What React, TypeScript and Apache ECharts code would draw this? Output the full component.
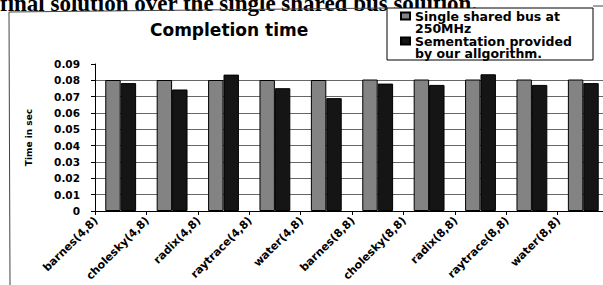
import React, { useEffect, useRef } from "react";
import * as echarts from "echarts";

const categories = [
  "barnes(4,8)", "cholesky(4,8)", "radix(4,8)", "raytrace(4,8)", "water(4,8)",
  "barnes(8,8)", "cholesky(8,8)", "radix(8,8)", "raytrace(8,8)", "water(8,8)",
];
const sharedBus = [0.0802, 0.0802, 0.0802, 0.0802, 0.0802, 0.0805, 0.0805, 0.0805, 0.0805, 0.0805];
const segmentation = [0.0783, 0.0744, 0.0835, 0.0752, 0.0691, 0.078, 0.0772, 0.0837, 0.0772, 0.0783];
const seriesNames = ["Single shared bus at 250MHz", "Sementation provided by our allgorithm."];
const legendLabels = ["Single shared bus at\n250MHz", "Sementation provided\nby our allgorithm."];
const titleText = "Completion time";
const yAxisName = "Time in sec";
const headerText = "final solution over the single shared bus solution.";

const FONT = "DejaVu Sans";

export default function App() {
  const ref = useRef<HTMLDivElement>(null);
  useEffect(() => {
    if (!ref.current) return;
    const chart = echarts.init(ref.current, null, { renderer: "svg" });
    const legendBase = (name: string, idx: number, top: number) => ({
      data: [name],
      orient: "vertical",
      left: 400,
      top,
      padding: 0,
      itemWidth: 9,
      itemHeight: 7,
      itemGap: 0,
      icon: "rect",
      // leading blank line so the first text line sits level with the marker
      formatter: () => " \n" + legendLabels[idx],
      textStyle: {
        fontFamily: FONT,
        fontWeight: "bold",
        fontSize: 12.5,
        lineHeight: 12.5,
        color: "#000",
      },
    });
    chart.setOption({
      animation: false,
      backgroundColor: "#fff",
      title: {
        text: titleText,
        left: 150,
        top: 21,
        padding: 0,
        textStyle: { fontFamily: FONT, fontWeight: "bold", fontSize: 17, color: "#000" },
      },
      legend: [legendBase(seriesNames[0], 0, -3), legendBase(seriesNames[1], 1, 22)],
      grid: { left: 95, right: -6, top: 64, bottom: 74, containLabel: false, outerBoundsMode: "none" },
      xAxis: {
        type: "category",
        data: categories,
        axisLine: { show: true, lineStyle: { color: "#000", width: 1 } },
        axisTick: { show: true, length: 4, lineStyle: { color: "#000" } },
        axisLabel: {
          interval: 0,
          rotate: 45,
          margin: -17,
          padding: [0, 35, 0, 0],
          fontFamily: FONT,
          fontWeight: "bold",
          fontSize: 11,
          color: "#000",
        },
      },
      yAxis: {
        type: "value",
        min: 0,
        max: 0.09,
        interval: 0.01,
        name: yAxisName,
        nameLocation: "middle",
        nameGap: 62,
        nameTextStyle: { fontFamily: FONT, fontWeight: "bold", fontSize: 9, color: "#000" },
        axisLine: { show: true, lineStyle: { color: "#000", width: 1 } },
        axisTick: { show: true, length: 4, lineStyle: { color: "#000" } },
        axisLabel: {
          margin: 15,
          fontFamily: FONT,
          fontWeight: "bold",
          fontSize: 10.5,
          color: "#000",
          formatter: (v: number) => (v === 0 ? "0" : v.toFixed(2)),
        },
        splitLine: { show: true, showMaxLine: false, lineStyle: { color: "#666", width: 1 } },
      },
      series: [
        {
          name: seriesNames[0],
          type: "bar",
          data: sharedBus,
          barGap: "0%",
          barCategoryGap: "40%",
          itemStyle: { color: "#838383", borderColor: "#000", borderWidth: 1 },
        },
        {
          name: seriesNames[1],
          type: "bar",
          data: segmentation,
          barGap: "0%",
          barCategoryGap: "40%",
          itemStyle: { color: "#151515", borderColor: "#000", borderWidth: 1 },
        },
      ],
      graphic: [
        {
          type: "text",
          x: 0,
          y: 3,
          style: {
            text: headerText,
            fontFamily: "Liberation Serif",
            fontWeight: "bold",
            fontSize: 23,
            fill: "#000",
            verticalAlign: "middle",
          },
        },
        { type: "line", shape: { x1: 9, y1: 12, x2: 387, y2: 8 }, style: { stroke: "#444", lineWidth: 1 } },
        { type: "line", shape: { x1: 593, y1: 6, x2: 603, y2: 6 }, style: { stroke: "#444", lineWidth: 1 } },
        { type: "line", shape: { x1: 9, y1: 12, x2: 10, y2: 285 }, style: { stroke: "#444", lineWidth: 1 } },
        {
          type: "rect",
          shape: { x: 387, y: 8, width: 206, height: 52 },
          style: { fill: "#fff", stroke: "#000", lineWidth: 1 },
          z: 1,
        },
      ],
    });
    return () => chart.dispose();
  }, []);
  return (
    <div
      ref={ref}
      style={{ position: "fixed", left: 0, top: 0, width: 603, height: 285, background: "#fff" }}
    />
  );
}
